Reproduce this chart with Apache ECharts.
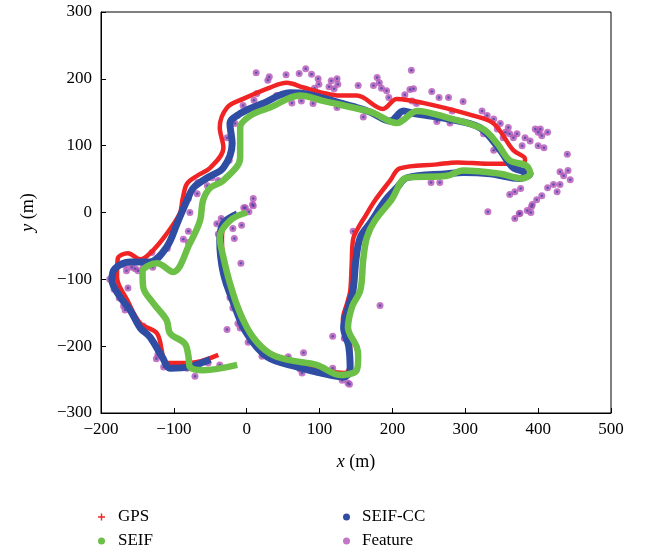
<!DOCTYPE html>
<html>
<head>
<meta charset="utf-8">
<script src="https://cdn.jsdelivr.net/npm/echarts@6/dist/echarts.min.js"></script>
<style>
  html, body { margin: 0; padding: 0; background: #fff; }
  #chart { width: 645px; height: 554px; }
</style>
</head>
<body>
<div id="chart"></div>
<script>
// trajectories, [x, y] in metres, in driving order
const gpsPath = [
  [-15, -3], [-30, -15], [-34, -40], [-30, -90], [-14, -135], [5, -180], [25, -206],
  [70, -226], [105, -236], [135, -240], [142, -225], [142, -195], [132, -160],
  [138, -135], [142, -118], [144, -80], [146, -40], [152, -25], [163, -5], [176, 18],
  [197, 48], [210, 66], [261, 72], [289, 75], [330, 73], [357, 73], [380, 72],
  [382, 80], [366, 93], [339, 133], [311, 145], [242, 164], [206, 170], [187, 155],
  [151, 175], [128, 175], [105, 179], [78, 187], [55, 194], [32, 187], [-5, 170],
  [-27, 157], [-37, 127], [-32, 97], [-50, 67], [-68, 55], [-82, 43], [-88, 20],
  [-92, -2], [-112, -35], [-130, -58], [-146, -70], [-163, -61], [-177, -69],
  [-178, -97], [-164, -131], [-146, -166], [-123, -181], [-109, -225],
  [-78, -225], [-39, -213]
];
const seifCCPath = [
  [-13, -2], [-32, -16], [-37, -42], [-32, -91], [-18, -136], [0, -181], [28, -216],
  [69, -231], [105, -241], [133, -246], [142, -236], [140, -200], [133, -172],
  [140, -140], [146, -116], [150, -70], [156, -37], [170, -15], [190, 18], [206, 37],
  [220, 52], [275, 58], [297, 60], [334, 58], [375, 51], [389, 58], [366, 67],
  [348, 93], [320, 127], [275, 140], [230, 148], [215, 152], [197, 137], [170, 150],
  [151, 157], [128, 164], [83, 177], [59, 179], [22, 163], [-9, 148], [-23, 133],
  [-20, 103], [-32, 67], [-54, 52], [-73, 37], [-82, 18], [-95, -15], [-110, -52],
  [-133, -74], [-160, -74], [-181, -84], [-185, -101], [-174, -126], [-160, -146],
  [-146, -173], [-133, -186], [-116, -216], [-105, -233], [-78, -231], [-60, -224],
  [-50, -220]
];
const seifPath = [
  [0, 0], [-23, -12], [-37, -37], [-32, -67], [-23, -106], [-9, -151], [9, -187],
  [32, -211], [59, -221], [96, -228], [128, -243], [151, -236], [153, -215],
  [151, -201], [139, -172], [145, -140], [156, -116], [160, -70], [165, -37],
  [176, -12], [198, 18], [220, 52], [275, 55], [297, 63], [348, 58], [378, 51],
  [389, 58], [384, 70], [361, 78], [344, 103], [324, 125], [275, 142], [234, 152],
  [206, 134], [174, 149], [165, 152], [105, 167], [73, 175], [32, 157], [5, 145],
  [-9, 127], [-9, 82], [-32, 48], [-50, 37], [-60, 18], [-64, -12], [-78, -46],
  [-101, -89], [-123, -76], [-143, -89], [-142, -112], [-128, -136], [-110, -161],
  [-105, -181], [-85, -196], [-80, -215], [-78, -231], [-60, -236], [-13, -228]
];
const featurePts = [
  [13, 209], [31, 203], [29, 198], [54, 206], [72, 208], [81, 215], [89, 207], [98, 200],
  [99, 192], [93, 186], [116, 197], [124, 200], [125, 192], [113, 188], [120, 185],
  [153, 190], [160, 143], [14, 178], [10, 168], [-5, 160], [5, 155], [-13, 145],
  [-16, 133], [-27, 112], [-24, 78], [-39, 48], [-48, 52], [-54, 40], [-67, 45],
  [-68, 28], [-80, 21], [-78, 0], [9, 21], [8, 12], [-2, 7], [62, 164], [75, 167],
  [91, 163], [41, 175], [124, 157],
  [226, 213], [179, 202], [174, 190], [182, 194], [185, 186], [192, 182], [195, 172],
  [217, 176], [224, 184], [229, 185], [254, 181], [264, 172], [277, 172], [297, 166],
  [227, 167], [233, 163], [208, 145], [261, 136], [279, 134], [282, 152],
  [323, 152], [330, 145], [339, 140], [348, 133], [344, 125], [355, 120], [361, 118],
  [359, 127], [366, 112], [352, 112], [371, 118], [325, 118], [339, 93],
  [382, 112], [389, 107], [396, 125], [400, 120], [405, 115], [403, 125], [413, 120],
  [408, 97], [400, 100], [378, 100], [440, 87], [430, 61], [435, 55], [444, 49],
  [441, 63], [421, 42], [430, 42], [413, 37], [426, 31], [405, 25], [398, 19],
  [376, 36], [368, 31], [361, 27], [392, 12], [385, 3], [375, -1], [368, -9],
  [331, 1], [374, -2], [390, 0], [391, 9], [253, 45], [265, 45],
  [146, -28], [149, -61], [148, -88], [183, -139], [134, -188], [141, -257], [131, -251],
  [-188, -100], [-182, -115], [-175, -128], [-169, -140], [-167, -146], [-163, -113],
  [-167, -79], [-158, -82], [-165, -87], [-153, -84], [-149, -87], [-142, -82],
  [-130, -60], [-123, -69], [-129, -82], [-109, -54], [-87, -40], [-80, -28], [-80, -45],
  [-148, -167], [-142, -170], [-122, -213], [-124, -219], [-114, -231], [-82, -233],
  [-71, -245], [-53, -225], [-37, -228],
  [-41, -17], [-35, -9], [-39, -32], [-19, -24], [-7, -19], [-17, -39], [-4, 7], [3, 1],
  [9, 10], [-8, -76], [-28, -106], [-23, -127], [-19, -143], [-27, -175], [-12, -166],
  [-9, -173], [2, -194], [21, -215], [57, -216], [78, -210], [73, -234], [76, -240],
  [98, -239], [107, -240], [118, -233], [118, -185], [135, -188], [139, -255]
];
const xTicks = [-200, 500, 100];
const yTicks = [-300, 300, 100];

const serif = '"Liberation Serif", "DejaVu Serif", serif';
const minus = v => String(v).replace('-', '\u2212');

const chart = echarts.init(document.getElementById('chart'), null, { renderer: 'canvas' });

const axisCommon = {
  axisLine: { onZero: false, lineStyle: { color: '#000', width: 1 } },
  axisTick: { inside: true, length: 5, lineStyle: { color: '#000' } },
  splitLine: { show: false }
};
const nameStyle = {
  fontFamily: serif, fontSize: 18, color: '#000',
  rich: { i: { fontFamily: serif, fontSize: 18, fontStyle: 'italic', color: '#000' } }
};
const legendText = { fontFamily: serif, fontSize: 17, color: '#000', lineHeight: 20 };

const option = {
  animation: false,
  backgroundColor: '#fff',
  grid: {
    left: 101, right: 34, top: 12, bottom: 141,
    show: true, borderColor: '#000', borderWidth: 1
  },
  xAxis: Object.assign({
    type: 'value', min: xTicks[0], max: xTicks[1], interval: xTicks[2],
    name: '{i|x} (m)', nameLocation: 'middle', nameGap: 40, nameTextStyle: nameStyle,
    axisLabel: { formatter: minus, fontFamily: serif, fontSize: 17, color: '#000', margin: 8 }
  }, axisCommon),
  yAxis: Object.assign({
    type: 'value', min: yTicks[0], max: yTicks[1], interval: yTicks[2],
    name: '{i|y} (m)', nameLocation: 'middle', nameGap: 64, nameRotate: 90, nameTextStyle: nameStyle,
    axisLabel: { formatter: minus, fontFamily: serif, fontSize: 17, color: '#000', margin: 9 }
  }, axisCommon),
  legend: [
    {
      orient: 'vertical', left: 98, top: 507, padding: 0, itemGap: 4, itemWidth: 7, itemHeight: 7,
      textStyle: Object.assign({ padding: [0, 0, 0, 8] }, legendText),
      data: [
        { name: 'GPS', icon: 'path://M2,0h1v2h2v1H3v2H2V3H0V2h2z' },
        { name: 'SEIF', icon: 'circle' }
      ]
    },
    {
      orient: 'vertical', left: 343, top: 507, padding: 0, itemGap: 4, itemWidth: 7, itemHeight: 7,
      textStyle: Object.assign({ padding: [0, 0, 0, 7] }, legendText),
      data: [
        { name: 'SEIF-CC', icon: 'circle' },
        { name: 'Feature', icon: 'circle' }
      ]
    }
  ],
  series: [
    {
      name: 'GPS', type: 'line', data: gpsPath, smooth: 0.35, showSymbol: false,
      lineStyle: { color: '#f02424', width: 4.5 }, itemStyle: { color: '#f02424' }
    },
    {
      name: 'SEIF-CC', type: 'line', data: seifCCPath, smooth: 0.35, showSymbol: false,
      lineStyle: { color: '#2f4ea3', width: 7 }, itemStyle: { color: '#2f4ea3' }
    },
    {
      name: 'Feature', type: 'scatter', data: featurePts, symbolSize: 7,
      itemStyle: { color: '#b454b6' }
    },
    {
      // blue centre of each feature mark
      name: 'FeatureCore', type: 'scatter', data: featurePts, symbolSize: 2.5,
      itemStyle: { color: '#3d4aa8' }, silent: true
    },
    {
      name: 'SEIF', type: 'line', data: seifPath, smooth: 0.35, showSymbol: false,
      lineStyle: { color: '#6cbf47', width: 6.5 }, itemStyle: { color: '#6cbf47' }
    }
  ]
};

chart.setOption(option);
</script>
</body>
</html>
